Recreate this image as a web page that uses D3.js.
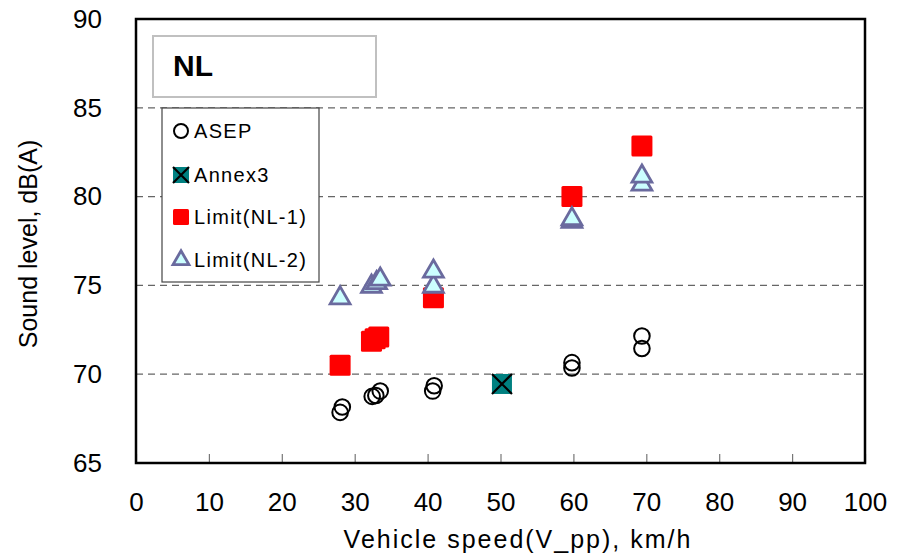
<!DOCTYPE html>
<html>
<head>
<meta charset="utf-8">
<script src="https://cdn.jsdelivr.net/npm/d3@7"></script>
<style>
  body { margin: 0; background: #fff; }
  svg { display: block; }
  text { font-family: "Liberation Sans", Arial, sans-serif; }
</style>
</head>
<body>
<script>
// data
const asep = [
  [28.0, 67.85], [28.3, 68.15],
  [32.4, 68.75], [32.9, 68.8], [33.5, 69.05],
  [40.7, 69.05], [40.9, 69.35],
  [59.8, 70.35], [59.8, 70.65],
  [69.4, 71.45], [69.4, 72.15]
];
const annex3 = [[50.2, 69.45]];
const limitNL1 = [
  [28.0, 70.5],
  [32.3, 71.85], [32.8, 72.0], [33.3, 72.1],
  [40.8, 74.3],
  [59.8, 80.0],
  [69.4, 82.85]
];
const limitNL2 = [
  [28.0, 74.4],
  [32.3, 75.05], [33.0, 75.25], [33.5, 75.45],
  [40.8, 75.05], [40.8, 75.9],
  [59.8, 78.7], [59.8, 78.85],
  [69.4, 80.8], [69.4, 81.25]
];
const xTicks = [0, 10, 20, 30, 40, 50, 60, 70, 80, 90, 100];
const yTicks = [65, 70, 75, 80, 85, 90];
const legendItems = ["ASEP", "Annex3", "Limit(NL-1)", "Limit(NL-2)"];

const W = 909, H = 556;
const margin = {left: 136, right: 44, top: 19, bottom: 93};

const svg = d3.select("body").append("svg")
  .attr("width", W).attr("height", H);

const x = d3.scaleLinear().domain([0, 100]).range([margin.left, W - margin.right]);
const y = d3.scaleLinear().domain([65, 90]).range([H - margin.bottom, margin.top]);

// dashed grid
svg.append("g").selectAll("line")
  .data(yTicks.filter(d => d > 65 && d < 90))
  .join("line")
  .attr("x1", x(0)).attr("x2", x(100))
  .attr("y1", d => y(d)).attr("y2", d => y(d))
  .attr("stroke", "#666").attr("stroke-width", 1.2)
  .attr("stroke-dasharray", "7,5");

// x axis: ticks pointing in
const xAxis = svg.append("g")
  .attr("transform", `translate(0,${y(65)})`)
  .call(d3.axisBottom(x).tickValues(xTicks).tickSizeInner(-9).tickSizeOuter(0).tickPadding(30));
xAxis.select(".domain").remove();
xAxis.selectAll(".tick line").attr("stroke", "#777").attr("stroke-width", 1.2);
xAxis.selectAll(".tick text")
  .attr("font-size", 26).attr("fill", "#000")
  .attr("font-family", "Liberation Sans, Arial, sans-serif");

// y axis labels
const yAxis = svg.append("g")
  .attr("transform", `translate(${x(0)},0)`)
  .call(d3.axisLeft(y).tickValues(yTicks).tickSize(0).tickPadding(34));
yAxis.select(".domain").remove();
yAxis.selectAll(".tick text")
  .attr("font-size", 26).attr("fill", "#000")
  .attr("font-family", "Liberation Sans, Arial, sans-serif");

// frame
svg.append("rect")
  .attr("x", x(0)).attr("y", y(90))
  .attr("width", x(100) - x(0)).attr("height", y(65) - y(90))
  .attr("fill", "none").attr("stroke", "#000").attr("stroke-width", 2.5);

// axis titles
svg.append("text")
  .attr("x", 518).attr("y", 548)
  .attr("text-anchor", "middle").attr("font-size", 25)
  .attr("letter-spacing", 2)
  .text("Vehicle speed(V_pp), km/h");

svg.append("text")
  .attr("transform", `translate(37,244) rotate(-90)`)
  .attr("text-anchor", "middle").attr("font-size", 25)
  .text("Sound level, dB(A)");

// title box
svg.append("rect")
  .attr("x", 153).attr("y", 36).attr("width", 223).attr("height", 61)
  .attr("fill", "#fff").attr("stroke", "#c0c0c0").attr("stroke-width", 2);
svg.append("text")
  .attr("x", 173).attr("y", 76)
  .attr("font-size", 30).attr("font-weight", "bold")
  .text("NL");

// marker drawers
function drawCircle(g, cx, cy, r) {
  g.append("circle").attr("cx", cx).attr("cy", cy).attr("r", r)
    .attr("fill", "none").attr("stroke", "#000").attr("stroke-width", 2);
}
function drawX(g, cx, cy, s) {
  g.append("rect").attr("x", cx - s / 2).attr("y", cy - s / 2)
    .attr("width", s).attr("height", s).attr("fill", "#008080");
  g.append("path")
    .attr("d", `M${cx - s / 2},${cy - s / 2}L${cx + s / 2},${cy + s / 2}M${cx + s / 2},${cy - s / 2}L${cx - s / 2},${cy + s / 2}`)
    .attr("stroke", "#000").attr("stroke-width", 2.2);
}
function drawSquare(g, cx, cy, s) {
  g.append("rect").attr("x", cx - s / 2).attr("y", cy - s / 2)
    .attr("width", s).attr("height", s).attr("rx", 1.5).attr("fill", "#ff0000");
}
function drawTri(g, cx, cy, sz) {
  g.append("path").attr("d", d3.symbol().type(d3.symbolTriangle).size(sz)())
    .attr("transform", `translate(${cx},${cy + 2})`)
    .attr("fill", "#ccffff").attr("stroke", "#6a6a9e").attr("stroke-width", 2.8)
    .attr("stroke-linejoin", "miter");
}

const marks = svg.append("g");
asep.forEach(d => drawCircle(marks, x(d[0]), y(d[1]), 7.8));
annex3.forEach(d => drawX(marks, x(d[0]), y(d[1]), 20));
limitNL1.forEach(d => drawSquare(marks, x(d[0]), y(d[1]), 21));
limitNL2.forEach(d => drawTri(marks, x(d[0]), y(d[1]), 170));

// legend
const lg = svg.append("g");
lg.append("rect").attr("x", 162).attr("y", 108).attr("width", 157).attr("height", 174)
  .attr("fill", "#fff").attr("stroke", "#444").attr("stroke-width", 1.2);
const ly = [131, 175, 217, 260];
drawCircle(lg, 181, ly[0], 7);
drawX(lg, 181, ly[1], 16);
drawSquare(lg, 181, ly[2], 16);
drawTri(lg, 181, ly[3] - 2, 110);
lg.selectAll("text.leg").data(legendItems).join("text")
  .attr("class", "leg")
  .attr("x", 194).attr("y", (d, i) => ly[i] + 7)
  .attr("font-size", 20)
  .attr("letter-spacing", 1.3)
  .text(d => d);
</script>
</body>
</html>
